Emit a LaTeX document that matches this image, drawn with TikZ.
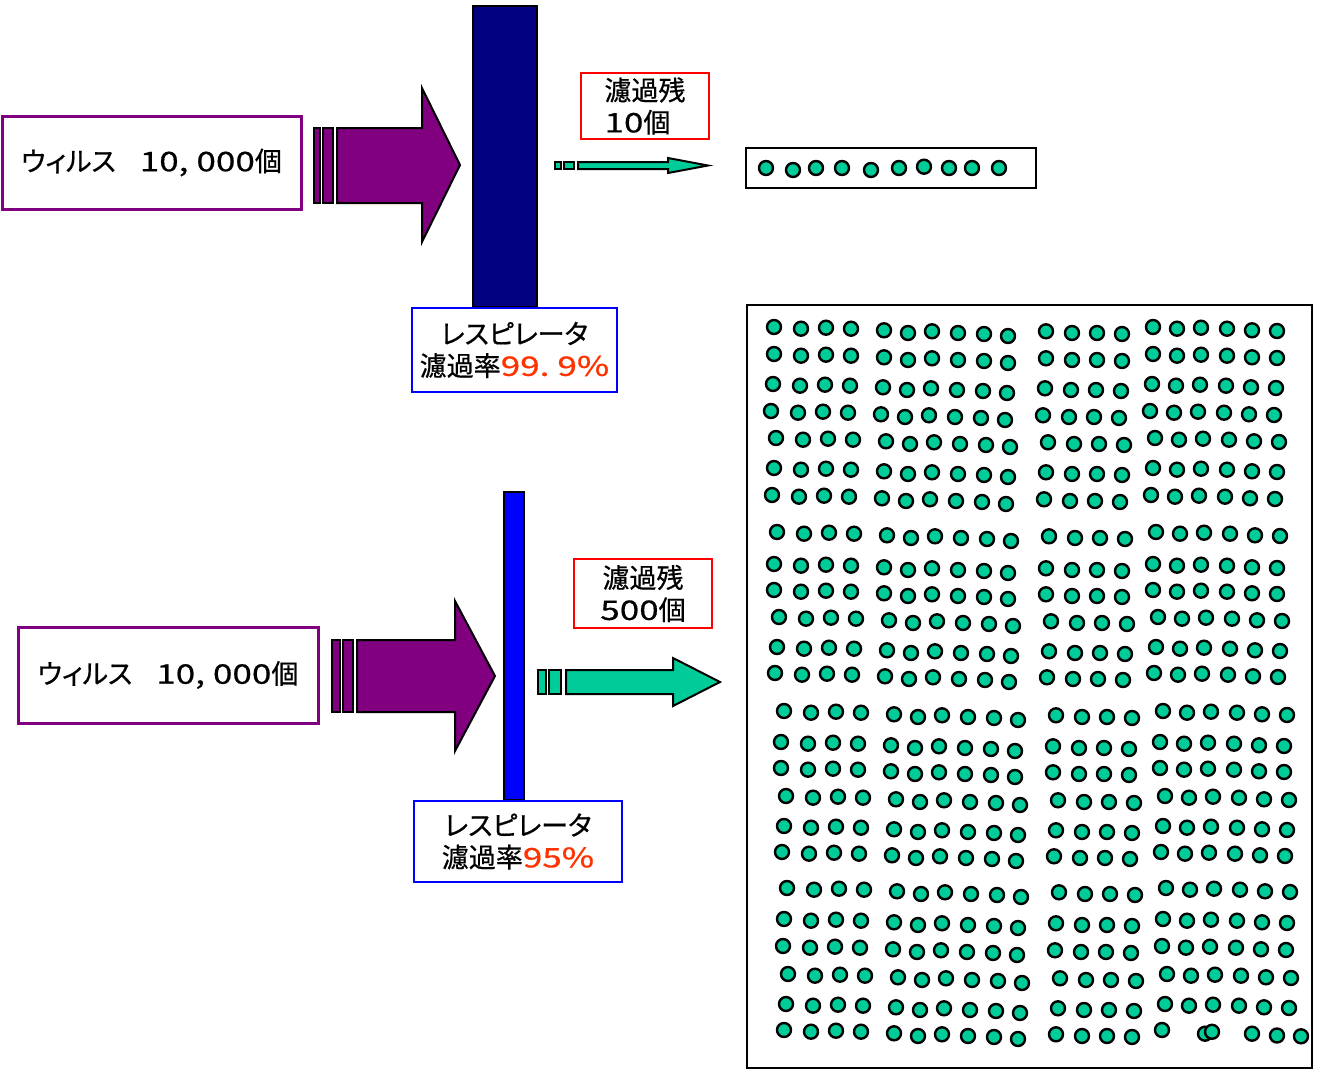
\documentclass[tikz,border=0pt]{standalone}
\usepackage{fontspec}
\setmainfont{Noto Sans CJK JP}[RawFeature=+palt, FakeBold=0.6]
\newfontfamily\digitfont{Noto Sans CJK JP}[FakeStretch=1.3, FakeBold=0.6]
\newcommand\dg[1]{{\digitfont #1}}
\newcommand\lblfont{\fontsize{13.5pt}{16pt}\selectfont}

\definecolor{vpurple}{HTML}{800080}
\definecolor{navybar}{HTML}{000080}
\definecolor{bluebar}{HTML}{0000FF}
\definecolor{virusgreen}{HTML}{00CC99}
\definecolor{ratered}{HTML}{FF3300}
\definecolor{boxred}{HTML}{FF0000}

\tikzset{
  labelbox/.style={draw, fill=white, inner sep=0pt, font=\lblfont, align=center},
  filterbar/.style={draw=black, line width=0.6pt, inner sep=0pt},
  arrowline/.style={draw=black, line width=1pt, line join=miter},
  virus/.style={draw=black, line width=1.2pt, fill=virusgreen},
  tray/.style={draw=black, line width=1pt}
}

% column offsets (x) and small vertical jitter (y) of one row of particles
\def\dotcols{0/0,27/1.7,52/0.7,77/1.7,110/3.3,134/6,158/4.3,184/6,210/7,234/9,272/4.3,298/6,323/6,348/7,379/0,403/1.7,427/0.7,453/1.7,478/3.3,503/4}
\def\lastcols{0/0,27/1.7,52/0.7,77/1.7,110/3.3,134/6,158/4.3,184/6,210/7,234/9,272/4.3,298/6,323/6,348/7,378/0,421/3.7,428/1.8,468/3.7,493/5.5,517/6.3}

\begin{document}
\begin{tikzpicture}[x=0.5pt,y=-0.5pt]
\useasboundingbox (0,0) rectangle (1319,1072);
\fill[white] (0,0) rectangle (1319,1072);

% ---------- upper case: 99.9 % respirator ----------
\node[filterbar, fill=navybar, minimum width=32pt, minimum height=150.5pt] (filterA) at (505,156.5) {};

\node[labelbox, draw=vpurple, line width=1.5pt, minimum width=149.5pt, minimum height=46.5pt]
  (virusA) at (151.5,162.5) {ウィルス\hspace{12pt}\dg{10,\hspace{4pt}000}個};

% inflow arrow
\filldraw[arrowline, fill=vpurple] (314,128) rectangle (320,203);
\filldraw[arrowline, fill=vpurple] (323,128) rectangle (333,203);
\filldraw[arrowline, fill=vpurple] (337,128) -- (422,128) -- (422,88) -- (460,165)
  -- (422,242) -- (422,203) -- (337,203) -- cycle;

\node[labelbox, draw=bluebar, line width=1pt, minimum width=102.5pt, minimum height=42pt]
  (rateA) at (514.5,350) {レスピレータ\\濾過率\textcolor{ratered}{\dg{99.\hspace{4pt}9\%}}};

% outflow arrow
\filldraw[arrowline, fill=virusgreen] (555,162) rectangle (561,169);
\filldraw[arrowline, fill=virusgreen] (564,162) rectangle (574,169);
\filldraw[arrowline, fill=virusgreen] (578,162) -- (668,162) -- (668,158) -- (708,165.5)
  -- (668,173) -- (668,169) -- (578,169) -- cycle;

\node[labelbox, draw=boxred, line width=1pt, minimum width=64pt, minimum height=33pt, align=left]
  (passA) at (645,106) {濾過残\\\dg{10}個};

% particles that got through
\node[tray, minimum width=145pt, minimum height=20pt, inner sep=0pt] (trayA) at (891,168) {};
\foreach \px/\py in {766/168,793/170,816/168,842/168,871/170,899/168,924/166.7,949/168,972/168,999/168}
  \draw[virus] (\px,\py) circle[radius=3.5pt];

% ---------- lower case: 95 % respirator ----------
\node[filterbar, fill=bluebar, minimum width=10pt, minimum height=154pt] (filterB) at (514,646) {};

\node[labelbox, draw=vpurple, line width=1.5pt, minimum width=150pt, minimum height=48pt]
  (virusB) at (168,675) {ウィルス\hspace{12pt}\dg{10,\hspace{4pt}000}個};

% inflow arrow
\filldraw[arrowline, fill=vpurple] (332,640) rectangle (340,712);
\filldraw[arrowline, fill=vpurple] (343,640) rectangle (353,712);
\filldraw[arrowline, fill=vpurple] (357,640) -- (455,640) -- (455,601) -- (495,676)
  -- (455,751) -- (455,712) -- (357,712) -- cycle;

\node[labelbox, draw=bluebar, line width=1pt, minimum width=104pt, minimum height=40.5pt]
  (rateB) at (518,841.5) {レスピレータ\\濾過率\textcolor{ratered}{\dg{95\%}}};

% outflow arrow
\filldraw[arrowline, fill=virusgreen] (538,670) rectangle (546,694);
\filldraw[arrowline, fill=virusgreen] (549,670) rectangle (561,694);
\filldraw[arrowline, fill=virusgreen] (566,670) -- (673,670) -- (673,658) -- (720,682)
  -- (673,706) -- (673,694) -- (566,694) -- cycle;

\node[labelbox, draw=boxred, line width=1pt, minimum width=69pt, minimum height=34.5pt]
  (passB) at (643,593.5) {濾過残\\\dg{500}個};

% particles that got through
\node[tray, minimum width=282.5pt, minimum height=381.5pt, inner sep=0pt] (trayB) at (1029.5,686.5) {};
\foreach \ry/\rx in {327/774,354/774,384/773,411/771,438/776,468/774,495/772,
                     532/777,564/774,590/774,617/779,647/777,673/775,
                     711/784,742/781,768/781,796/786,826/784,852/782,
                     888/787,919/784,946/783,974/788,1004/786}
  \foreach \cx/\cy in \dotcols
    \draw[virus] (\rx+\cx,\ry+\cy) circle[radius=3.5pt];
\foreach \cx/\cy in \lastcols
  \draw[virus] (784+\cx,1030+\cy) circle[radius=3.5pt];

\end{tikzpicture}
\end{document}
